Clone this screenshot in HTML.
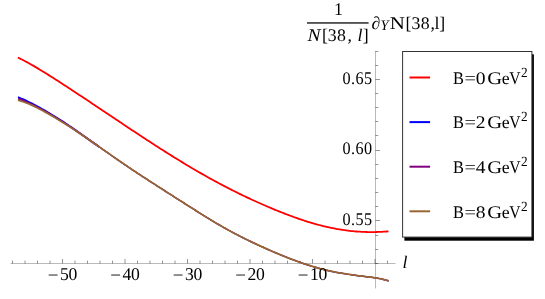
<!DOCTYPE html>
<html><head><meta charset="utf-8"><title>plot</title>
<style>
html,body{margin:0;padding:0;background:#fff;}
svg{display:block;will-change:transform;}
text{font-family:"Liberation Serif",serif;font-size:18px;fill:#000;text-rendering:geometricPrecision;}
.i{font-style:italic;}
</style></head><body>
<svg width="545" height="299" viewBox="0 0 545 299">
<rect x="0" y="0" width="545" height="299" fill="#fff"/>
<g stroke="#000" stroke-opacity="0.27" stroke-width="1" fill="none">
<line x1="10.6" y1="263.5" x2="395.5" y2="263.5"/>
<line x1="375.5" y1="51" x2="375.5" y2="288.4"/>
</g>
<g stroke="#000" stroke-opacity="0.42" stroke-width="1" fill="none">
<line x1="12.50" y1="263.5" x2="12.50" y2="260.60"/>
<line x1="25.00" y1="263.5" x2="25.00" y2="260.60"/>
<line x1="37.50" y1="263.5" x2="37.50" y2="260.60"/>
<line x1="50.00" y1="263.5" x2="50.00" y2="260.60"/>
<line x1="62.50" y1="263.5" x2="62.50" y2="259.00"/>
<line x1="75.00" y1="263.5" x2="75.00" y2="260.60"/>
<line x1="87.50" y1="263.5" x2="87.50" y2="260.60"/>
<line x1="100.00" y1="263.5" x2="100.00" y2="260.60"/>
<line x1="112.50" y1="263.5" x2="112.50" y2="260.60"/>
<line x1="125.00" y1="263.5" x2="125.00" y2="259.00"/>
<line x1="137.50" y1="263.5" x2="137.50" y2="260.60"/>
<line x1="150.00" y1="263.5" x2="150.00" y2="260.60"/>
<line x1="162.50" y1="263.5" x2="162.50" y2="260.60"/>
<line x1="175.00" y1="263.5" x2="175.00" y2="260.60"/>
<line x1="187.50" y1="263.5" x2="187.50" y2="259.00"/>
<line x1="200.00" y1="263.5" x2="200.00" y2="260.60"/>
<line x1="212.50" y1="263.5" x2="212.50" y2="260.60"/>
<line x1="225.00" y1="263.5" x2="225.00" y2="260.60"/>
<line x1="237.50" y1="263.5" x2="237.50" y2="260.60"/>
<line x1="250.00" y1="263.5" x2="250.00" y2="259.00"/>
<line x1="262.50" y1="263.5" x2="262.50" y2="260.60"/>
<line x1="275.00" y1="263.5" x2="275.00" y2="260.60"/>
<line x1="287.50" y1="263.5" x2="287.50" y2="260.60"/>
<line x1="300.00" y1="263.5" x2="300.00" y2="260.60"/>
<line x1="312.50" y1="263.5" x2="312.50" y2="259.00"/>
<line x1="325.00" y1="263.5" x2="325.00" y2="260.60"/>
<line x1="337.50" y1="263.5" x2="337.50" y2="260.60"/>
<line x1="350.00" y1="263.5" x2="350.00" y2="260.60"/>
<line x1="362.50" y1="263.5" x2="362.50" y2="260.60"/>
<line x1="375.00" y1="263.5" x2="375.00" y2="259.00"/>
<line x1="387.50" y1="263.5" x2="387.50" y2="260.60"/>
<line x1="375.5" y1="277.50" x2="378.20" y2="277.50"/>
<line x1="375.5" y1="263.50" x2="378.20" y2="263.50"/>
<line x1="375.5" y1="249.50" x2="378.20" y2="249.50"/>
<line x1="375.5" y1="235.50" x2="378.20" y2="235.50"/>
<line x1="375.5" y1="220.50" x2="379.90" y2="220.50"/>
<line x1="375.5" y1="206.50" x2="378.20" y2="206.50"/>
<line x1="375.5" y1="192.50" x2="378.20" y2="192.50"/>
<line x1="375.5" y1="178.50" x2="378.20" y2="178.50"/>
<line x1="375.5" y1="164.50" x2="378.20" y2="164.50"/>
<line x1="375.5" y1="150.50" x2="379.90" y2="150.50"/>
<line x1="375.5" y1="135.50" x2="378.20" y2="135.50"/>
<line x1="375.5" y1="121.50" x2="378.20" y2="121.50"/>
<line x1="375.5" y1="107.50" x2="378.20" y2="107.50"/>
<line x1="375.5" y1="93.50" x2="378.20" y2="93.50"/>
<line x1="375.5" y1="79.50" x2="379.90" y2="79.50"/>
<line x1="375.5" y1="65.50" x2="378.20" y2="65.50"/>
<line x1="375.5" y1="51.50" x2="378.20" y2="51.50"/>
</g>
<g fill="none" stroke-width="1.8" stroke-linejoin="round" stroke-linecap="butt">
<path d="M17.90,57.53 L19.59,58.35 L21.28,59.20 L22.98,60.06 L24.67,60.95 L26.36,61.85 L28.05,62.78 L29.75,63.72 L31.44,64.67 L33.13,65.64 L34.82,66.63 L36.51,67.63 L38.21,68.63 L39.90,69.65 L41.59,70.68 L43.28,71.72 L44.98,72.77 L46.67,73.82 L48.36,74.88 L50.05,75.95 L51.74,77.02 L53.44,78.10 L55.13,79.18 L56.82,80.26 L58.51,81.35 L60.21,82.45 L61.90,83.54 L63.59,84.64 L65.28,85.74 L66.97,86.85 L68.67,87.95 L70.36,89.06 L72.05,90.17 L73.74,91.28 L75.44,92.40 L77.13,93.51 L78.82,94.63 L80.51,95.75 L82.21,96.87 L83.90,98.00 L85.59,99.12 L87.28,100.25 L88.97,101.37 L90.67,102.50 L92.36,103.63 L94.05,104.76 L95.74,105.89 L97.44,107.02 L99.13,108.15 L100.82,109.28 L102.51,110.42 L104.20,111.55 L105.90,112.68 L107.59,113.82 L109.28,114.95 L110.97,116.08 L112.67,117.21 L114.36,118.35 L116.05,119.48 L117.74,120.61 L119.43,121.74 L121.13,122.87 L122.82,124.00 L124.51,125.13 L126.20,126.25 L127.90,127.38 L129.59,128.50 L131.28,129.63 L132.97,130.75 L134.66,131.87 L136.36,132.99 L138.05,134.10 L139.74,135.22 L141.43,136.33 L143.13,137.44 L144.82,138.55 L146.51,139.65 L148.20,140.76 L149.89,141.86 L151.59,142.96 L153.28,144.05 L154.97,145.14 L156.66,146.23 L158.36,147.32 L160.05,148.40 L161.74,149.48 L163.43,150.56 L165.12,151.63 L166.82,152.70 L168.51,153.77 L170.20,154.83 L171.89,155.88 L173.59,156.94 L175.28,157.98 L176.97,159.03 L178.66,160.07 L180.35,161.10 L182.05,162.13 L183.74,163.16 L185.43,164.18 L187.12,165.20 L188.82,166.21 L190.51,167.21 L192.20,168.21 L193.89,169.21 L195.58,170.20 L197.28,171.18 L198.97,172.16 L200.66,173.13 L202.35,174.10 L204.05,175.06 L205.74,176.01 L207.43,176.96 L209.12,177.91 L210.82,178.84 L212.51,179.77 L214.20,180.70 L215.89,181.62 L217.58,182.53 L219.28,183.44 L220.97,184.34 L222.66,185.23 L224.35,186.12 L226.05,187.00 L227.74,187.87 L229.43,188.74 L231.12,189.60 L232.81,190.46 L234.51,191.31 L236.20,192.15 L237.89,192.99 L239.58,193.82 L241.28,194.64 L242.97,195.46 L244.66,196.27 L246.35,197.08 L248.04,197.88 L249.74,198.67 L251.43,199.46 L253.12,200.24 L254.81,201.01 L256.51,201.78 L258.20,202.54 L259.89,203.29 L261.58,204.04 L263.27,204.79 L264.97,205.52 L266.66,206.25 L268.35,206.98 L270.04,207.69 L271.74,208.41 L273.43,209.11 L275.12,209.81 L276.81,210.50 L278.50,211.18 L280.20,211.86 L281.89,212.53 L283.58,213.19 L285.27,213.85 L286.97,214.49 L288.66,215.13 L290.35,215.76 L292.04,216.38 L293.73,217.00 L295.43,217.60 L297.12,218.20 L298.81,218.79 L300.50,219.36 L302.20,219.93 L303.89,220.49 L305.58,221.03 L307.27,221.57 L308.96,222.10 L310.66,222.61 L312.35,223.11 L314.04,223.60 L315.73,224.08 L317.43,224.55 L319.12,225.00 L320.81,225.44 L322.50,225.87 L324.19,226.29 L325.89,226.69 L327.58,227.08 L329.27,227.45 L330.96,227.81 L332.66,228.16 L334.35,228.49 L336.04,228.81 L337.73,229.11 L339.43,229.40 L341.12,229.68 L342.81,229.94 L344.50,230.18 L346.19,230.42 L347.89,230.63 L349.58,230.83 L351.27,231.02 L352.96,231.19 L354.66,231.35 L356.35,231.49 L358.04,231.61 L359.73,231.72 L361.42,231.82 L363.12,231.90 L364.81,231.97 L366.50,232.02 L368.19,232.05 L369.89,232.07 L371.58,232.08 L373.27,232.07 L374.96,232.05 L376.65,232.01 L378.35,231.96 L380.04,231.89 L381.73,231.81 L383.42,231.72 L385.12,231.61 L386.81,231.48 L388.50,231.35" stroke="#ff0000"/>
<path d="M99.60,147.12 L101.23,148.26 L102.86,149.41 L104.49,150.56 L106.13,151.70 L107.76,152.84 L109.39,153.99 L111.02,155.13 L112.65,156.27 L114.29,157.40 L115.92,158.53 L117.55,159.66 L119.18,160.79 L120.81,161.91 L122.45,163.03 L124.08,164.15 L125.71,165.26 L127.34,166.37 L128.97,167.47 L130.61,168.57 L132.24,169.66 L133.87,170.76 L135.50,171.84 L137.13,172.92 L138.77,174.00 L140.40,175.08 L142.03,176.15 L143.66,177.22 L145.29,178.28 L146.93,179.34 L148.56,180.40 L150.19,181.45 L151.82,182.51 L153.45,183.56 L155.08,184.61 L156.72,185.66 L158.35,186.71 L159.98,187.75 L161.61,188.80 L163.24,189.84 L164.88,190.88 L166.51,191.93 L168.14,192.97 L169.77,194.01 L171.40,195.05 L173.04,196.09 L174.67,197.14 L176.30,198.18 L177.93,199.22 L179.56,200.26 L181.20,201.30 L182.83,202.34 L184.46,203.38 L186.09,204.41 L187.72,205.45 L189.36,206.49 L190.99,207.52 L192.62,208.56 L194.25,209.59 L195.88,210.62 L197.52,211.65 L199.15,212.68 L200.78,213.70 L202.41,214.72 L204.04,215.74 L205.68,216.75 L207.31,217.76 L208.94,218.76 L210.57,219.76 L212.20,220.75 L213.84,221.73 L215.47,222.71 L217.10,223.67 L218.73,224.63 L220.36,225.58 L222.00,226.52 L223.63,227.45 L225.26,228.37 L226.89,229.29 L228.52,230.19 L230.16,231.08 L231.79,231.96 L233.42,232.84 L235.05,233.70 L236.68,234.56 L238.32,235.40 L239.95,236.24 L241.58,237.07 L243.21,237.88 L244.84,238.70 L246.47,239.50 L248.11,240.30 L249.74,241.09 L251.37,241.87 L253.00,242.65 L254.63,243.41 L256.27,244.18 L257.90,244.93 L259.53,245.69 L261.16,246.43 L262.79,247.17 L264.43,247.90 L266.06,248.63 L267.69,249.35 L269.32,250.07 L270.95,250.78 L272.59,251.48 L274.22,252.18 L275.85,252.87 L277.48,253.56 L279.11,254.24 L280.75,254.91 L282.38,255.58 L284.01,256.24 L285.64,256.90 L287.27,257.55 L288.91,258.19 L290.54,258.82 L292.17,259.44 L293.80,260.06 L295.43,260.67 L297.07,261.27 L298.70,261.86 L300.33,262.44 L301.96,263.01 L303.59,263.57 L305.23,264.12 L306.86,264.66 L308.49,265.19 L310.12,265.70 L311.75,266.21 L313.39,266.70 L315.02,267.18 L316.65,267.65 L318.28,268.10 L319.91,268.55 L321.55,268.98 L323.18,269.39 L324.81,269.80 L326.44,270.19 L328.07,270.57 L329.71,270.94 L331.34,271.29 L332.97,271.64 L334.60,271.97 L336.23,272.29 L337.86,272.60 L339.50,272.89 L341.13,273.18 L342.76,273.46 L344.39,273.73 L346.02,273.98 L347.66,274.23 L349.29,274.48 L350.92,274.71 L352.55,274.94 L354.18,275.16 L355.82,275.37 L357.45,275.58 L359.08,275.79 L360.71,275.99 L362.34,276.19 L363.98,276.39 L365.61,276.59 L367.24,276.79 L368.87,276.99 L370.50,277.19 L372.14,277.39 L373.77,277.60 L375.40,277.82 L376.35,277.97 L377.30,278.14 L378.25,278.32 L379.20,278.51 L380.15,278.70 L381.10,278.91 L382.05,279.13 L383.00,279.36 L383.95,279.60 L384.90,279.85 L385.85,280.11 L386.80,280.38 L387.75,280.64 L388.70,280.92" stroke="#0000ff" stroke-width="1.2"/>
<path d="M99.60,147.12 L101.23,148.26 L102.86,149.41 L104.49,150.56 L106.13,151.70 L107.76,152.84 L109.39,153.99 L111.02,155.13 L112.65,156.27 L114.29,157.40 L115.92,158.53 L117.55,159.66 L119.18,160.79 L120.81,161.91 L122.45,163.03 L124.08,164.15 L125.71,165.26 L127.34,166.37 L128.97,167.47 L130.61,168.57 L132.24,169.66 L133.87,170.76 L135.50,171.84 L137.13,172.92 L138.77,174.00 L140.40,175.08 L142.03,176.15 L143.66,177.22 L145.29,178.28 L146.93,179.34 L148.56,180.40 L150.19,181.45 L151.82,182.51 L153.45,183.56 L155.08,184.61 L156.72,185.66 L158.35,186.71 L159.98,187.75 L161.61,188.80 L163.24,189.84 L164.88,190.88 L166.51,191.93 L168.14,192.97 L169.77,194.01 L171.40,195.05 L173.04,196.09 L174.67,197.14 L176.30,198.18 L177.93,199.22 L179.56,200.26 L181.20,201.30 L182.83,202.34 L184.46,203.38 L186.09,204.41 L187.72,205.45 L189.36,206.49 L190.99,207.52 L192.62,208.56 L194.25,209.59 L195.88,210.62 L197.52,211.65 L199.15,212.68 L200.78,213.70 L202.41,214.72 L204.04,215.74 L205.68,216.75 L207.31,217.76 L208.94,218.76 L210.57,219.76 L212.20,220.75 L213.84,221.73 L215.47,222.71 L217.10,223.67 L218.73,224.63 L220.36,225.58 L222.00,226.52 L223.63,227.45 L225.26,228.37 L226.89,229.29 L228.52,230.19 L230.16,231.08 L231.79,231.96 L233.42,232.84 L235.05,233.70 L236.68,234.56 L238.32,235.40 L239.95,236.24 L241.58,237.07 L243.21,237.88 L244.84,238.70 L246.47,239.50 L248.11,240.30 L249.74,241.09 L251.37,241.87 L253.00,242.65 L254.63,243.41 L256.27,244.18 L257.90,244.93 L259.53,245.69 L261.16,246.43 L262.79,247.17 L264.43,247.90 L266.06,248.63 L267.69,249.35 L269.32,250.07 L270.95,250.78 L272.59,251.48 L274.22,252.18 L275.85,252.87 L277.48,253.56 L279.11,254.24 L280.75,254.91 L282.38,255.58 L284.01,256.24 L285.64,256.90 L287.27,257.55 L288.91,258.19 L290.54,258.82 L292.17,259.44 L293.80,260.06 L295.43,260.67 L297.07,261.27 L298.70,261.86 L300.33,262.44 L301.96,263.01 L303.59,263.57 L305.23,264.12 L306.86,264.66 L308.49,265.19 L310.12,265.70 L311.75,266.21 L313.39,266.70 L315.02,267.18 L316.65,267.65 L318.28,268.10 L319.91,268.55 L321.55,268.98 L323.18,269.39 L324.81,269.80 L326.44,270.19 L328.07,270.57 L329.71,270.94 L331.34,271.29 L332.97,271.64 L334.60,271.97 L336.23,272.29 L337.86,272.60 L339.50,272.89 L341.13,273.18 L342.76,273.46 L344.39,273.73 L346.02,273.98 L347.66,274.23 L349.29,274.48 L350.92,274.71 L352.55,274.94 L354.18,275.16 L355.82,275.37 L357.45,275.58 L359.08,275.79 L360.71,275.99 L362.34,276.19 L363.98,276.39 L365.61,276.59 L367.24,276.79 L368.87,276.99 L370.50,277.19 L372.14,277.39 L373.77,277.60 L375.40,277.82 L376.35,277.97 L377.30,278.14 L378.25,278.32 L379.20,278.51 L380.15,278.70 L381.10,278.91 L382.05,279.13 L383.00,279.36 L383.95,279.60 L384.90,279.85 L385.85,280.11 L386.80,280.38 L387.75,280.64 L388.70,280.92" stroke="#800080" stroke-width="1.2"/>
<path d="M18.00,97.17 L19.63,97.81 L21.26,98.49 L22.90,99.19 L24.53,99.92 L26.16,100.67 L27.79,101.45 L29.42,102.25 L31.06,103.06 L32.69,103.90 L34.32,104.74 L35.95,105.60 L37.58,106.47 L39.22,107.36 L40.85,108.26 L42.48,109.17 L44.11,110.10 L45.74,111.04 L47.38,111.99 L49.01,112.96 L50.64,113.93 L52.27,114.91 L53.90,115.91 L55.54,116.91 L57.17,117.93 L58.80,118.96 L60.43,120.00 L62.06,121.06 L63.69,122.12 L65.33,123.20 L66.96,124.28 L68.59,125.38 L70.22,126.48 L71.85,127.59 L73.49,128.71 L75.12,129.83 L76.75,130.97 L78.38,132.12 L80.01,133.28 L81.65,134.45 L83.28,135.61 L84.91,136.78 L86.54,137.95 L88.17,139.11 L89.81,140.27 L91.44,141.41 L93.07,142.55 L94.70,143.69 L96.33,144.83 L97.97,145.97 L99.60,147.12" stroke="#0000ff"/>
<path d="M18.00,98.67 L19.63,99.22 L21.26,99.80 L22.90,100.43 L24.53,101.08 L26.16,101.77 L27.79,102.48 L29.42,103.22 L31.06,103.99 L32.69,104.78 L34.32,105.58 L35.95,106.41 L37.58,107.25 L39.22,108.11 L40.85,108.98 L42.48,109.87 L44.11,110.77 L45.74,111.69 L47.38,112.62 L49.01,113.56 L50.64,114.51 L52.27,115.47 L53.90,116.45 L55.54,117.43 L57.17,118.43 L58.80,119.44 L60.43,120.46 L62.06,121.49 L63.69,122.53 L65.33,123.58 L66.96,124.64 L68.59,125.71 L70.22,126.79 L71.85,127.87 L73.49,128.97 L75.12,130.07 L76.75,131.18 L78.38,132.30 L80.01,133.43 L81.65,134.56 L83.28,135.70 L84.91,136.84 L86.54,137.99 L88.17,139.13 L89.81,140.27 L91.44,141.41 L93.07,142.55 L94.70,143.69 L96.33,144.83 L97.97,145.97 L99.60,147.12" stroke="#800080"/>
<path d="M18.00,100.17 L19.63,100.62 L21.26,101.12 L22.90,101.66 L24.53,102.24 L26.16,102.86 L27.79,103.52 L29.42,104.20 L31.06,104.92 L32.69,105.66 L34.32,106.43 L35.95,107.22 L37.58,108.03 L39.22,108.86 L40.85,109.70 L42.48,110.57 L44.11,111.45 L45.74,112.34 L47.38,113.25 L49.01,114.17 L50.64,115.10 L52.27,116.04 L53.90,116.99 L55.54,117.96 L57.17,118.93 L58.80,119.92 L60.43,120.91 L62.06,121.92 L63.69,122.94 L65.33,123.96 L66.96,125.00 L68.59,126.04 L70.22,127.09 L71.85,128.15 L73.49,129.22 L75.12,130.30 L76.75,131.38 L78.38,132.48 L80.01,133.57 L81.65,134.68 L83.28,135.79 L84.91,136.90 L86.54,138.02 L88.17,139.15 L89.81,140.28 L91.44,141.41 L93.07,142.55 L94.70,143.69 L96.33,144.83 L97.97,145.97 L99.60,147.12 L101.23,148.26 L102.86,149.41 L104.49,150.56 L106.13,151.70 L107.76,152.84 L109.39,153.99 L111.02,155.13 L112.65,156.27 L114.29,157.40 L115.92,158.53 L117.55,159.66 L119.18,160.79 L120.81,161.91 L122.45,163.03 L124.08,164.15 L125.71,165.26 L127.34,166.37 L128.97,167.47 L130.61,168.57 L132.24,169.66 L133.87,170.76 L135.50,171.84 L137.13,172.92 L138.77,174.00 L140.40,175.08 L142.03,176.15 L143.66,177.22 L145.29,178.28 L146.93,179.34 L148.56,180.40 L150.19,181.45 L151.82,182.51 L153.45,183.56 L155.08,184.61 L156.72,185.66 L158.35,186.71 L159.98,187.75 L161.61,188.80 L163.24,189.84 L164.88,190.88 L166.51,191.93 L168.14,192.97 L169.77,194.01 L171.40,195.05 L173.04,196.09 L174.67,197.14 L176.30,198.18 L177.93,199.22 L179.56,200.26 L181.20,201.30 L182.83,202.34 L184.46,203.38 L186.09,204.41 L187.72,205.45 L189.36,206.49 L190.99,207.52 L192.62,208.56 L194.25,209.59 L195.88,210.62 L197.52,211.65 L199.15,212.68 L200.78,213.70 L202.41,214.72 L204.04,215.74 L205.68,216.75 L207.31,217.76 L208.94,218.76 L210.57,219.76 L212.20,220.75 L213.84,221.73 L215.47,222.71 L217.10,223.67 L218.73,224.63 L220.36,225.58 L222.00,226.52 L223.63,227.45 L225.26,228.37 L226.89,229.29 L228.52,230.19 L230.16,231.08 L231.79,231.96 L233.42,232.84 L235.05,233.70 L236.68,234.56 L238.32,235.40 L239.95,236.24 L241.58,237.07 L243.21,237.88 L244.84,238.70 L246.47,239.50 L248.11,240.30 L249.74,241.09 L251.37,241.87 L253.00,242.65 L254.63,243.41 L256.27,244.18 L257.90,244.93 L259.53,245.69 L261.16,246.43 L262.79,247.17 L264.43,247.90 L266.06,248.63 L267.69,249.35 L269.32,250.07 L270.95,250.78 L272.59,251.48 L274.22,252.18 L275.85,252.87 L277.48,253.56 L279.11,254.24 L280.75,254.91 L282.38,255.58 L284.01,256.24 L285.64,256.90 L287.27,257.55 L288.91,258.19 L290.54,258.82 L292.17,259.44 L293.80,260.06 L295.43,260.67 L297.07,261.27 L298.70,261.86 L300.33,262.44 L301.96,263.01 L303.59,263.57 L305.23,264.12 L306.86,264.66 L308.49,265.19 L310.12,265.70 L311.75,266.21 L313.39,266.70 L315.02,267.18 L316.65,267.65 L318.28,268.10 L319.91,268.55 L321.55,268.98 L323.18,269.39 L324.81,269.80 L326.44,270.19 L328.07,270.57 L329.71,270.94 L331.34,271.29 L332.97,271.64 L334.60,271.97 L336.23,272.29 L337.86,272.60 L339.50,272.89 L341.13,273.18 L342.76,273.46 L344.39,273.73 L346.02,273.98 L347.66,274.23 L349.29,274.48 L350.92,274.71 L352.55,274.94 L354.18,275.16 L355.82,275.37 L357.45,275.58 L359.08,275.79 L360.71,275.99 L362.34,276.19 L363.98,276.39 L365.61,276.59 L367.24,276.79 L368.87,276.99 L370.50,277.19 L372.14,277.39 L373.77,277.60 L375.40,277.82 L376.35,277.97 L377.30,278.14 L378.25,278.32 L379.20,278.51 L380.15,278.70 L381.10,278.91 L382.05,279.13 L383.00,279.36 L383.95,279.60 L384.90,279.85 L385.85,280.11 L386.80,280.38 L387.75,280.64 L388.70,280.92" stroke="#996633"/>
</g>
<text transform="translate(342.50,83.65) scale(0.91,1)" style="font-size:17.8px;letter-spacing:0.5px;">0.65</text>
<text transform="translate(342.50,154.45) scale(0.91,1)" style="font-size:17.8px;letter-spacing:0.5px;">0.60</text>
<text transform="translate(342.50,225.25) scale(0.91,1)" style="font-size:17.8px;letter-spacing:0.5px;">0.55</text>
<text transform="translate(47.70,281.00) scale(1.06,1)" style="font-size:18px;letter-spacing:0.5px;">−</text><text transform="translate(60.00,279.50) scale(0.98,1)" style="font-size:18px;letter-spacing:-0.4px;">50</text>
<text transform="translate(110.20,281.00) scale(1.06,1)" style="font-size:18px;letter-spacing:0.5px;">−</text><text transform="translate(122.50,279.50) scale(0.98,1)" style="font-size:18px;letter-spacing:-0.4px;">40</text>
<text transform="translate(172.70,281.00) scale(1.06,1)" style="font-size:18px;letter-spacing:0.5px;">−</text><text transform="translate(185.00,279.50) scale(0.98,1)" style="font-size:18px;letter-spacing:-0.4px;">30</text>
<text transform="translate(235.20,281.00) scale(1.06,1)" style="font-size:18px;letter-spacing:0.5px;">−</text><text transform="translate(247.50,279.50) scale(0.98,1)" style="font-size:18px;letter-spacing:-0.4px;">20</text>
<text transform="translate(297.70,281.00) scale(1.06,1)" style="font-size:18px;letter-spacing:0.5px;">−</text><text transform="translate(310.00,279.50) scale(0.98,1)" style="font-size:18px;letter-spacing:-0.4px;">10</text>
<text class="i" transform="translate(402.40,267.60) scale(1.0,1)" style="font-size:17.8px;letter-spacing:0.5px;">l</text>
<text transform="translate(334.00,14.60) scale(1.0,1)" style="font-size:17.8px;letter-spacing:0.5px;">1</text>
<rect x="307" y="22.25" width="61.6" height="1.4" fill="#1a1a1a"/>
<text class="i" transform="translate(307.40,41.30) scale(1.1,1)" style="font-size:17.8px;letter-spacing:0.5px;">N</text><text transform="translate(322.10,41.30) scale(1.0,1)" style="font-size:17.8px;letter-spacing:0.5px;">[</text><text transform="translate(327.70,41.30) scale(1.0,1)" style="font-size:17.8px;letter-spacing:0.5px;">38</text><text transform="translate(347.50,41.30) scale(1.0,1)" style="font-size:17.8px;letter-spacing:0.5px;">,</text><text class="i" transform="translate(357.50,41.30) scale(1.0,1)" style="font-size:17.8px;letter-spacing:0.5px;">l</text><text transform="translate(362.80,41.30) scale(1.0,1)" style="font-size:17.8px;letter-spacing:0.5px;">]</text>
<text transform="translate(371.50,28.70) scale(1.0,1)" style="font-size:17.8px;letter-spacing:0.5px;">∂</text><text class="i" transform="translate(380.50,29.70) scale(1.0,1)" style="font-size:14.5px;letter-spacing:0.5px;">Y</text><text transform="translate(389.80,28.70) scale(1.18,1)" style="font-size:17.8px;letter-spacing:0.5px;">N</text><text transform="translate(405.50,28.70) scale(1.0,1)" style="font-size:17.8px;letter-spacing:0.5px;">[</text><text transform="translate(411.40,28.70) scale(1.0,1)" style="font-size:17.8px;letter-spacing:0.5px;">38</text><text transform="translate(430.50,28.70) scale(1.0,1)" style="font-size:17.8px;letter-spacing:0.5px;">,</text><text transform="translate(434.60,28.70) scale(1.0,1)" style="font-size:17.8px;letter-spacing:0.5px;">l</text><text transform="translate(439.30,28.70) scale(1.0,1)" style="font-size:17.8px;letter-spacing:0.5px;">]</text>
<rect x="404.4" y="54.3" width="129.5" height="186.4" fill="#000"/>
<rect x="402.6" y="51.5" width="129.3" height="185.6" fill="#fff" stroke="#333" stroke-width="1"/>
<line x1="409.5" y1="77.50" x2="430.1" y2="77.50" stroke="#ff0000" stroke-width="2"/>
<text transform="translate(453.10,83.85) scale(0.92,1)" style="font-size:17.8px;letter-spacing:0.5px;">B</text><text transform="translate(464.60,83.85) scale(1.14,1)" style="font-size:17.8px;letter-spacing:0.5px;">=</text><text transform="translate(475.80,83.85) scale(1.1,1)" style="font-size:17.8px;letter-spacing:0.5px;">0</text><text transform="translate(487.20,83.85) scale(1.16,1)" style="font-size:17.8px;letter-spacing:0.5px;">G</text><text transform="translate(501.70,83.85) scale(1.0,1)" style="font-size:17.8px;letter-spacing:0.5px;">e</text><text transform="translate(509.20,83.85) scale(0.88,1)" style="font-size:17.8px;letter-spacing:0.5px;">V</text><text transform="translate(520.90,76.85) scale(0.95,1)" style="font-size:14px;letter-spacing:0.5px;">2</text>
<line x1="409.5" y1="122.10" x2="430.1" y2="122.10" stroke="#0000ff" stroke-width="2"/>
<text transform="translate(453.10,128.45) scale(0.92,1)" style="font-size:17.8px;letter-spacing:0.5px;">B</text><text transform="translate(464.60,128.45) scale(1.14,1)" style="font-size:17.8px;letter-spacing:0.5px;">=</text><text transform="translate(475.80,128.45) scale(1.1,1)" style="font-size:17.8px;letter-spacing:0.5px;">2</text><text transform="translate(487.20,128.45) scale(1.16,1)" style="font-size:17.8px;letter-spacing:0.5px;">G</text><text transform="translate(501.70,128.45) scale(1.0,1)" style="font-size:17.8px;letter-spacing:0.5px;">e</text><text transform="translate(509.20,128.45) scale(0.88,1)" style="font-size:17.8px;letter-spacing:0.5px;">V</text><text transform="translate(520.90,121.45) scale(0.95,1)" style="font-size:14px;letter-spacing:0.5px;">2</text>
<line x1="409.5" y1="166.70" x2="430.1" y2="166.70" stroke="#800080" stroke-width="2"/>
<text transform="translate(453.10,173.05) scale(0.92,1)" style="font-size:17.8px;letter-spacing:0.5px;">B</text><text transform="translate(464.60,173.05) scale(1.14,1)" style="font-size:17.8px;letter-spacing:0.5px;">=</text><text transform="translate(475.80,173.05) scale(1.1,1)" style="font-size:17.8px;letter-spacing:0.5px;">4</text><text transform="translate(487.20,173.05) scale(1.16,1)" style="font-size:17.8px;letter-spacing:0.5px;">G</text><text transform="translate(501.70,173.05) scale(1.0,1)" style="font-size:17.8px;letter-spacing:0.5px;">e</text><text transform="translate(509.20,173.05) scale(0.88,1)" style="font-size:17.8px;letter-spacing:0.5px;">V</text><text transform="translate(520.90,166.05) scale(0.95,1)" style="font-size:14px;letter-spacing:0.5px;">2</text>
<line x1="409.5" y1="211.30" x2="430.1" y2="211.30" stroke="#996633" stroke-width="2"/>
<text transform="translate(453.10,217.65) scale(0.92,1)" style="font-size:17.8px;letter-spacing:0.5px;">B</text><text transform="translate(464.60,217.65) scale(1.14,1)" style="font-size:17.8px;letter-spacing:0.5px;">=</text><text transform="translate(475.80,217.65) scale(1.1,1)" style="font-size:17.8px;letter-spacing:0.5px;">8</text><text transform="translate(487.20,217.65) scale(1.16,1)" style="font-size:17.8px;letter-spacing:0.5px;">G</text><text transform="translate(501.70,217.65) scale(1.0,1)" style="font-size:17.8px;letter-spacing:0.5px;">e</text><text transform="translate(509.20,217.65) scale(0.88,1)" style="font-size:17.8px;letter-spacing:0.5px;">V</text><text transform="translate(520.90,210.65) scale(0.95,1)" style="font-size:14px;letter-spacing:0.5px;">2</text>
</svg>
</body></html>
